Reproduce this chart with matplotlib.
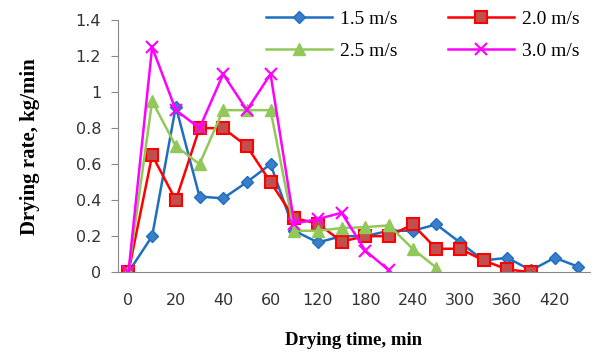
import matplotlib
matplotlib.use("Agg")
import matplotlib.pyplot as plt
import numpy as np

categories = [0, 10, 20, 30, 40, 50, 60, 90, 120, 150, 180, 210, 240, 270, 300, 330, 360, 390, 420, 450]
s15 = [0, 0.2, 0.92, 0.42, 0.41, 0.5, 0.6, 0.23, 0.165, 0.2, 0.2, 0.23, 0.23, 0.265, 0.165, 0.065, 0.08, 0.01, 0.08, 0.03]
s20 = [0, 0.65, 0.4, 0.8, 0.8, 0.7, 0.5, 0.3, 0.27, 0.17, 0.2, 0.2, 0.265, 0.13, 0.13, 0.065, 0.015, 0.0]
s25 = [0, 0.95, 0.7, 0.6, 0.9, 0.9, 0.9, 0.23, 0.23, 0.245, 0.25, 0.26, 0.13, 0.025]
s30 = [0, 1.25, 0.9, 0.8, 1.1, 0.9, 1.1, 0.27, 0.295, 0.33, 0.12, 0.01]
tick_labels = ["0", "20", "40", "60", "120", "180", "240", "300", "360", "420"]

fig = plt.figure(figsize=(5.98, 3.53), dpi=100)
ax = fig.add_axes([0.197, 0.229, 0.79, 0.714])

idx = np.arange(len(categories))
h15, = ax.plot(idx[:len(s15)], s15, color="#1F6FC0", lw=1.8, marker="D", ms=6.5,
               mfc="#3A7DC8", mec="#1F6FC0", label="1.5 m/s")
h20, = ax.plot(idx[:len(s20)], s20, color="#FF0000", lw=1.8, marker="s", ms=8.5,
               mfc="#C0504D", mec="#FF0000", mew=1.5, label="2.0 m/s")
h25, = ax.plot(idx[:len(s25)], s25, color="#92C85A", lw=1.8, marker="^", ms=9,
               mfc="#92C85A", mec="#92C85A", label="2.5 m/s")
h30, = ax.plot(idx[:len(s30)], s30, color="#FF00FF", lw=1.8, marker="x", ms=9,
               mew=1.5, label="3.0 m/s")

ax.set_xlim(-0.45, 19.5)
ax.set_ylim(0, 1.4)
ax.set_yticks(np.arange(0, 1.41, 0.2))
ax.set_yticklabels(["0", "0.2", "0.4", "0.6", "0.8", "1", "1.2", "1.4"])
ax.set_xticks(idx[::2][:len(tick_labels)])
ax.set_xticklabels(tick_labels)
ax.tick_params(axis="both", labelsize=11.5, colors="#333333")
ax.tick_params(axis="x", length=0, pad=15)
ax.tick_params(axis="y", length=5, color="#888888", pad=7)
for sp in ["top", "right"]:
    ax.spines[sp].set_visible(False)
ax.spines["left"].set_color("#888888")
ax.spines["bottom"].set_color("#888888")

ax.set_ylabel("Drying rate, kg/min", family="Liberation Serif", fontsize=15,
              fontweight="bold", fontstretch="condensed", labelpad=26)
ax.set_xlabel("Drying time, min", family="Liberation Serif", fontsize=13.5,
              fontweight="bold", labelpad=17)

leg = ax.legend([h15, h25, h20, h30], ["1.5 m/s", "2.5 m/s", "2.0 m/s", "3.0 m/s"],
                ncol=2, loc="upper right", bbox_to_anchor=(1.015, 1.11), frameon=False,
                prop={"family": "Liberation Serif", "size": 14}, handlelength=3.4,
                handletextpad=0.4, columnspacing=2.6, labelspacing=0.75)

fig.savefig("out.png", dpi=100)
